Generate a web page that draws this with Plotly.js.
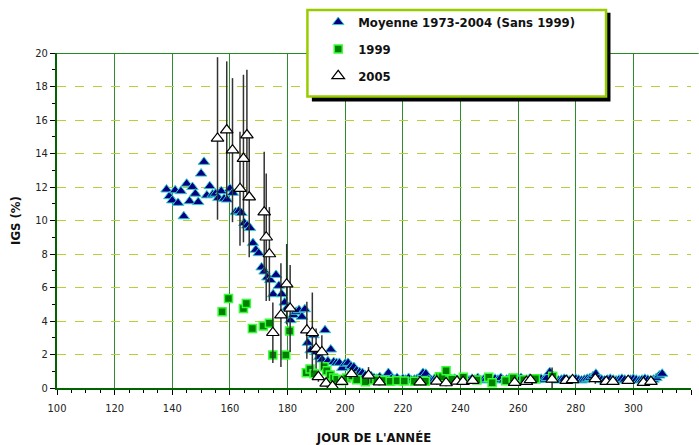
<!DOCTYPE html>
<html><head><meta charset="utf-8">
<script src="https://cdn.plot.ly/plotly-3.0.1.min.js"></script>
<style>html,body{margin:0;padding:0;background:#fff;}#chart{width:699px;height:445px;}</style>
</head><body><div id="chart"></div>
<script>
// Moyenne 1973-2004 (Sans 1999)
const moyDays = [138,139,140,141,142,143,144,145,146,147,148,149,150,151,152,153,154,155,156,157,158,159,160,161,162,163,164,165,166,167,168,169,170,171,172,173,174,175,176,177,178,179,180,181,182,183,184,185,186,187,188,189,190,191,192,193,194,195,196,197,198,199,200,201,202,203,204,205,206,207,208,209,210,211,212,213,214,215,216,217,218,219,220,221,222,223,224,225,226,227,228,229,230,231,232,233,234,235,236,237,238,239,240,241,242,243,244,245,246,247,248,249,250,251,252,253,254,255,256,257,258,259,260,261,262,263,264,265,266,267,268,269,270,271,272,273,274,275,276,277,278,279,280,281,282,283,284,285,286,287,288,289,290,291,292,293,294,295,296,297,298,299,300,301,302,303,304,305,306,307,308,309,310];
const moyVals = [11.85,11.45,11.2,11.8,11.05,11.75,10.25,12.2,11.15,12.0,11.6,11.1,12.8,13.5,11.5,12.05,11.55,11.6,11.35,11.75,11.3,11.25,11.9,11.65,10.5,10.55,10.45,9.85,9.7,9.55,8.65,8.25,8.05,7.2,6.95,6.6,6.45,5.6,6.75,6.1,5.6,5.1,4.8,4.05,4.35,4.55,4.65,4.25,4.7,2.7,2.25,3.15,2.15,1.85,1.7,3.45,1.6,2.3,1.55,1.5,1.5,1.2,1.45,1.5,1.3,1.25,1.05,0.95,0.9,0.75,0.65,0.7,0.6,0.55,0.65,0.5,0.6,0.9,0.55,0.5,0.6,0.45,0.55,0.5,0.6,0.45,0.5,0.55,0.6,0.9,0.85,0.5,0.45,0.55,0.6,0.5,0.45,0.55,0.6,0.5,0.55,0.45,0.5,0.6,0.5,0.45,0.55,0.5,0.6,0.45,0.5,0.55,0.5,0.45,0.55,0.5,0.6,0.45,0.5,0.55,0.5,0.45,0.5,0.6,0.45,0.5,0.55,0.5,0.45,0.5,0.55,0.5,0.6,0.95,0.55,0.5,0.45,0.5,0.55,0.5,0.45,0.5,0.55,0.5,0.45,0.5,0.55,0.6,0.7,0.85,0.55,0.5,0.45,0.5,0.55,0.5,0.45,0.5,0.55,0.5,0.45,0.5,0.55,0.5,0.45,0.5,0.55,0.5,0.45,0.5,0.6,0.75,0.85];

// 1999
const y1999Days = [157.3,159.5,164.7,165.7,167.8,171.6,173.7,174.9,179.4,180.7,186.5,187.8,189.2,192.7,193.6,194.8,196.0,197.1,199.2,200.5,202.3,204.0,207.0,209.8,211.0,213.0,215.6,218.0,220.5,224.0,227.8,232.7,233.6,235.0,237.0,241.0,245.7,249.8,251.0,255.7,258.3,262.0,266.0,272.0];
const y1999Vals = [4.55,5.35,4.75,5.05,3.55,3.7,3.86,1.97,1.97,3.4,0.91,1.13,0.85,1.27,1.03,0.78,0.6,0.52,0.44,0.6,0.72,0.5,0.38,0.48,0.48,0.45,0.4,0.44,0.42,0.4,0.4,0.67,0.67,1.03,0.52,0.64,0.48,0.64,0.32,0.44,0.6,0.5,0.55,0.7];

// 2005 with error bars
const y2005Days = [155.7,158.9,160.9,163.5,164.7,165.9,166.7,171.9,172.6,173.7,174.9,177.7,179.7,180.9,186.7,188.6,189.9,190.7,191.9,193.4,195.6,198.8,202.2,208.1,211.9,226.0,231.8,235.0,238.8,240.9,244.2,258.8,262.9,264.3,271.8,276.7,278.9,286.8,290.6,292.9,298.2,303.5,306.1];
const y2005Vals = [14.9,15.4,14.2,11.9,13.7,15.1,11.4,10.5,9.0,8.0,3.3,4.35,6.2,4.75,3.45,3.3,2.35,0.67,2.15,0.28,0.1,0.38,0.85,0.75,0.35,0.35,0.4,0.3,0.4,0.38,0.44,0.32,0.38,0.48,0.52,0.44,0.48,0.55,0.38,0.38,0.44,0.32,0.38];
const y2005Err = [4.85,4.1,4.3,3.4,5.0,3.9,3.6,3.6,3.8,2.8,1.8,3.1,2.4,2.6,1.7,2.4,1.2,0.3,1.0,0.2,0.1,0.2,0.3,0.5,0.2,0.2,0.2,0.2,0.2,0.2,0.2,0.2,0.2,0.3,0.7,0.2,0.2,0.3,0.2,0.2,0.2,0.2,0.2];

const seriesNames = ['Moyenne 1973-2004 (Sans 1999)','1999','2005'];
const xTickVals = [100,120,140,160,180,200,220,240,260,280,300,320];
const yTickVals = [0,2,4,6,8,10,12,14,16,18,20];

const FONT = 'DejaVu Sans Condensed, Liberation Sans Narrow, Arial Narrow, sans-serif';

const traces = [
  {x: moyDays, y: moyVals, name: seriesNames[0], type:'scatter', mode:'markers', legendgroup:'a',
   marker:{symbol:'triangle-up', size:10, color:'#000080', line:{color:'#33CCCC', width:1}}},
  {x: y1999Days, y: y1999Vals, name: seriesNames[1], type:'scatter', mode:'markers', legendgroup:'b',
   marker:{symbol:'square', size:8, color:'#008000', line:{color:'#33FF33', width:1.5}}},
  {x: y2005Days, y: y2005Vals, name: seriesNames[2], type:'scatter', mode:'markers', legendgroup:'c',
   error_y:{type:'data', array:y2005Err, visible:true, color:'#333333', thickness:1.5, width:0},
   marker:{symbol:'triangle-up', size:11, color:'#ffffff', line:{color:'#000000', width:1.2}}}
];

const layout = {
  width:699, height:445,
  margin:{l:57, r:8, t:53, b:57, autoexpand:false},
  paper_bgcolor:'#ffffff', plot_bgcolor:'#ffffff',
  font:{family:FONT, size:10, color:'#222'},
  showlegend:true,
  legend:{x:0.412, xanchor:'left', y:1.137, yanchor:'top', bgcolor:'rgba(0,0,0,0)', borderwidth:0,
    traceorder:'grouped', tracegroupgap:7, font:{family:FONT, size:13, color:'#111', weight:'bold'}},
  xaxis:{range:[100,320], tickvals:xTickVals, ticktext:xTickVals.map(String), ticks:'outside', ticklen:5, tickcolor:'#000', tickwidth:1,
    minor:{dtick:5, tick0:100, ticks:'outside', ticklen:3, tickcolor:'#000', showgrid:false},
    showgrid:true, gridcolor:'#2E8B2E', gridwidth:1, zeroline:false,
    showline:true, linecolor:'#006400', linewidth:2, ticklabelstandoff:4,
    tickfont:{family:FONT, size:11, color:'#222'},
    title:{text:"JOUR DE L'ANNÉE", standoff:22, font:{family:FONT, size:13, color:'#111', weight:'bold'}}},
  yaxis:{range:[0,20], tickvals:yTickVals, ticks:'outside', ticklen:5, tickcolor:'#000', tickwidth:1,
    minor:{dtick:1, tick0:0, ticks:'outside', ticklen:3, tickcolor:'#000', showgrid:false},
    showgrid:true, gridcolor:'#B2D235', gridwidth:1, griddash:'dash', zeroline:false,
    showline:true, linecolor:'#006400', linewidth:2,
    tickfont:{family:FONT, size:11, color:'#222'},
    title:{text:'IGS (%)', standoff:12, font:{family:FONT, size:13, color:'#111', weight:'bold'}}},
  shapes:[
    {type:'line', xref:'paper', yref:'y', x0:0, x1:1.012, y0:20, y1:20, line:{color:'#228B22', width:2}},
    {type:'rect', xref:'paper', yref:'paper', x0:0.402, x1:0.873, y0:0.855, y1:1.12, fillcolor:'#000', line:{width:0}},
    {type:'rect', xref:'paper', yref:'paper', x0:0.395, x1:0.866, y0:0.87, y1:1.128, fillcolor:'#fff', line:{color:'#99CC00', width:2.5}}
  ]
};

Plotly.newPlot('chart', traces, layout, {displayModeBar:false, staticPlot:true});
</script></body></html>
